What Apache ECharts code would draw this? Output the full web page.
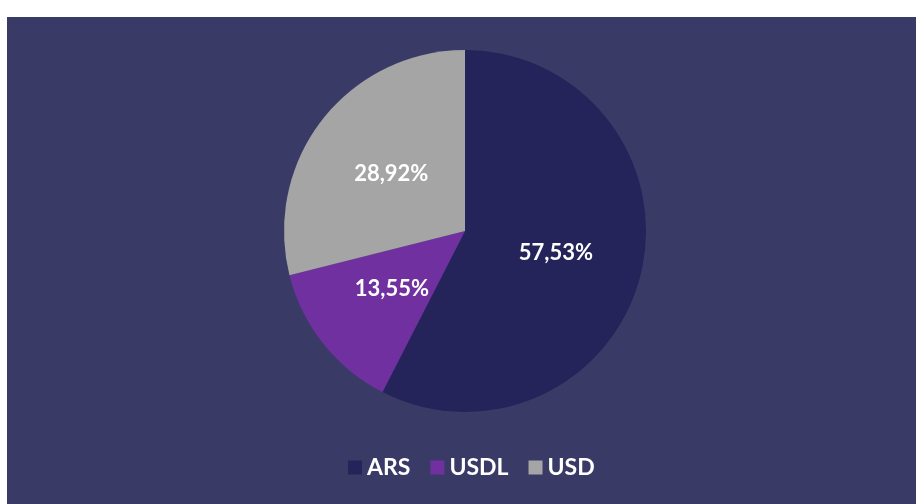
<!DOCTYPE html>
<html><head><meta charset="utf-8">
<script src="https://cdn.jsdelivr.net/npm/echarts@6/dist/echarts.min.js"></script>
<style>html,body{margin:0;padding:0;background:#fff;}#c{width:917px;height:504px;}</style>
</head><body><div id="c"></div>
<script>
const categories = ['ARS', 'USDL', 'USD'];
const values = [57.53, 13.55, 28.92];
const colors = ['#24235A', '#7030A0', '#A5A5A5'];

const chart = echarts.init(document.getElementById('c'), null, {renderer: 'canvas'});
chart.setOption({
  animation: false,
  graphic: [{type: 'rect', shape: {x: 7, y: 17, width: 909, height: 487}, style: {fill: '#3A3A67'}, z: -10}],
  color: colors,
  legend: {
    bottom: 20, left: 343,
    itemWidth: 14, itemHeight: 14, itemGap: 20,
    icon: 'rect',
    textStyle: {color: '#fff', fontFamily: 'Lato', fontWeight: 'bold', fontSize: 23},
    data: categories
  },
  series: [{
    type: 'pie',
    center: [465, 231],
    radius: [0, 181],
    startAngle: 90,
    clockwise: true,
    label: {
      position: 'inside', color: '#fff', fontFamily: 'Lato', fontWeight: 'bold', fontSize: 22,
      formatter: p => p.value.toFixed(2).replace('.', ',') + '%'
    },
    labelLine: {show: false},
    itemStyle: {borderWidth: 0},
    emphasis: {disabled: true},
    data: categories.map((c, i) => ({name: c, value: values[i]}))
  }]
});
</script></body></html>
